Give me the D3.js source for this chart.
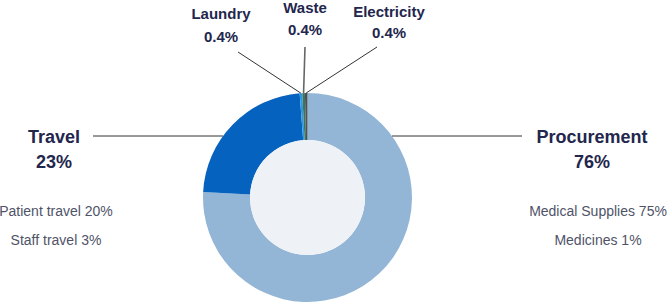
<!DOCTYPE html>
<html>
<head>
<meta charset="utf-8">
<script src="https://cdn.jsdelivr.net/npm/d3@7"></script>
<style>
  html, body { margin: 0; padding: 0; background: #fff; }
  svg { display: block; font-family: "Liberation Sans", Arial, Helvetica, sans-serif; }
</style>
</head>
<body>
<svg id="chart" width="669" height="303"></svg>
<script>
// data
const categories = ["Procurement", "Travel", "Laundry", "Waste", "Electricity"];
const shares = [76, 23, 0.4, 0.4, 0.4];
const shareLabels = ["76%", "23%", "0.4%", "0.4%", "0.4%"];
const travelParts = ["Patient travel 20%", "Staff travel 3%"];
const procurementParts = ["Medical Supplies 75%", "Medicines 1%"];

// chart settings
const width = 669, height = 303;
const cx = 307.5, cy = 197.5;
const outerR = 104.5, innerR = 57.5;
const colors = ["#94b6d6", "#0562be", "#2b98e4", "#3d7460", "#4d5257"];
const navy = "#23264d";

// label spots for the tiny slices (name baseline, value baseline)
const smallLabelPos = {
  Laundry: { x: 221, y: 19, y2: 42, lx: 238, ly: 52 },
  Waste: { x: 305, y: 13, y2: 35, lx: 305, ly: 47 },
  Electricity: { x: 389, y: 17, y2: 38, lx: 377, ly: 47 }
};
// big labels
const bigLabelPos = {
  Travel: { x: 54, y: 143, y2: 168, lineY: 136, lineEnd: 93, subs: travelParts, subX: 56 },
  Procurement: { x: 592, y: 143, y2: 168, lineY: 136, lineEnd: 522, subs: procurementParts, subX: 598 }
};

const data = categories.map((c, i) => ({ name: c, value: shares[i], label: shareLabels[i], color: colors[i] }));

const svg = d3.select("#chart");

const pie = d3.pie().sort(null).value(d => d.value).startAngle(0).endAngle(2 * Math.PI);
const arcs = pie(data);
const arc = d3.arc().innerRadius(innerR).outerRadius(outerR);

const g = svg.append("g").attr("transform", `translate(${cx},${cy})`);

g.selectAll("path.slice")
  .data(arcs)
  .join("path")
  .attr("class", "slice")
  .attr("d", arc)
  .attr("fill", d => d.data.color);

g.append("circle")
  .attr("r", innerR)
  .attr("fill", "#eef2f6");

// leader lines + labels for the tiny slices
arcs.filter(a => smallLabelPos[a.data.name]).forEach(a => {
  const p = smallLabelPos[a.data.name];
  const mid = (a.startAngle + a.endAngle) / 2;
  const ex = cx + outerR * Math.sin(mid);
  const ey = cy - outerR * Math.cos(mid);
  svg.append("line")
    .attr("x1", p.lx).attr("y1", p.ly)
    .attr("x2", ex).attr("y2", ey)
    .attr("stroke", a.data.name === "Waste" ? "#666" : "#333")
    .attr("stroke-width", a.data.name === "Waste" ? 1.6 : 1);
  svg.append("text")
    .attr("x", p.x).attr("y", p.y)
    .attr("text-anchor", "middle")
    .attr("font-size", 15).attr("font-weight", "bold")
    .attr("fill", navy)
    .text(a.data.name);
  svg.append("text")
    .attr("x", p.x).attr("y", p.y2)
    .attr("text-anchor", "middle")
    .attr("font-size", 15).attr("font-weight", "bold")
    .attr("fill", navy)
    .text(a.data.label);
});

// big labels with horizontal leader lines
arcs.filter(a => bigLabelPos[a.data.name]).forEach(a => {
  const p = bigLabelPos[a.data.name];
  const dy = p.lineY - cy;
  const dx = Math.sqrt(outerR * outerR - dy * dy);
  const edgeX = p.lineEnd < cx ? cx - dx : cx + dx;
  svg.append("line")
    .attr("x1", p.lineEnd).attr("y1", p.lineY)
    .attr("x2", edgeX).attr("y2", p.lineY)
    .attr("stroke", "#333").attr("stroke-width", 1);
  svg.append("text")
    .attr("x", p.x).attr("y", p.y)
    .attr("text-anchor", "middle")
    .attr("font-size", 18).attr("font-weight", "bold")
    .attr("fill", navy)
    .text(a.data.name);
  svg.append("text")
    .attr("x", p.x).attr("y", p.y2)
    .attr("text-anchor", "middle")
    .attr("font-size", 18).attr("font-weight", "bold")
    .attr("fill", navy)
    .text(a.data.label);
  svg.selectAll(null)
    .data(p.subs)
    .join("text")
    .attr("x", p.subX)
    .attr("y", (d, i) => 216 + i * 29)
    .attr("text-anchor", "middle")
    .attr("font-size", 14)
    .attr("fill", "#4f5368")
    .text(d => d);
});
</script>
</body>
</html>
